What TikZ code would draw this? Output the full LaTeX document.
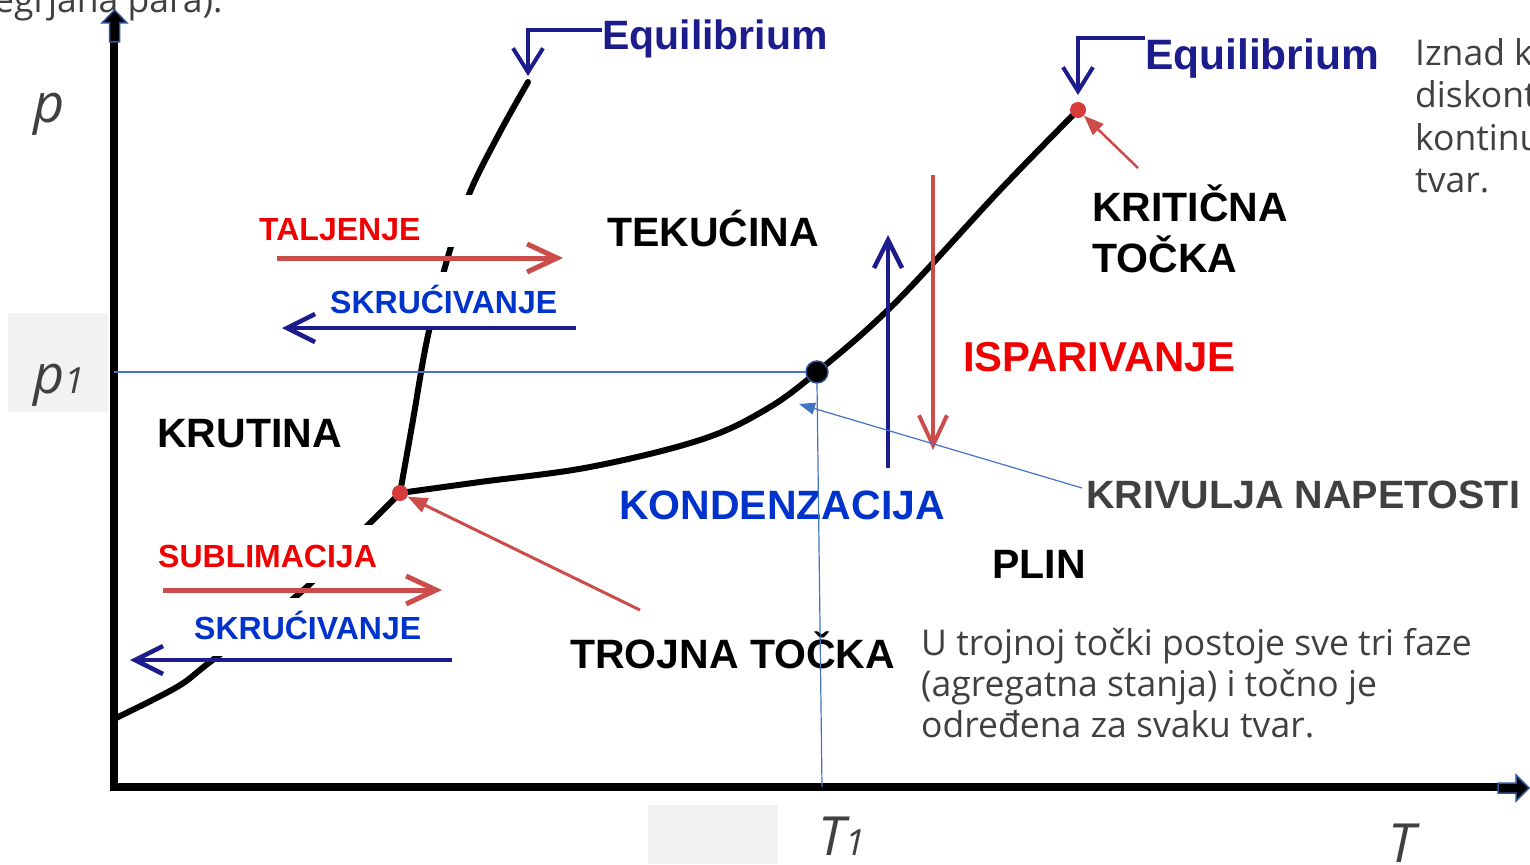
\documentclass[tikz,border=0pt]{standalone}
\usepackage{fontspec}
\setmainfont{Liberation Sans}
\newfontfamily\segoe{Open Sans}
\usetikzlibrary{arrows.meta}
\definecolor{navyarr}{RGB}{28,28,140}
\definecolor{lblblue}{RGB}{0,51,204}
\definecolor{lblred}{RGB}{240,0,0}
\definecolor{salmon}{RGB}{204,76,76}
\definecolor{dotred}{RGB}{214,58,58}
\definecolor{thinblue}{RGB}{68,114,196}
\definecolor{txtgray}{RGB}{64,64,64}
\definecolor{boxgray}{RGB}{242,242,242}
\definecolor{outlineblue}{RGB}{47,85,151}
\tikzset{
  lbl/.style={anchor=base west, inner sep=0pt, font=\bfseries\fontsize{41}{41}\selectfont},
  slbl/.style={anchor=base west, inner sep=0pt, font=\bfseries\fontsize{32}{32}\selectfont},
  eqlbl/.style={anchor=base west, inner sep=0pt, text=navyarr, font=\bfseries\fontsize{42}{42}\selectfont},
  graytxt/.style={anchor=base west, inner sep=0pt, text=txtgray, font=\segoe\fontsize{35.5}{41}\selectfont},
  axlbl/.style={anchor=base west, inner sep=0pt, text=txtgray, font=\segoe\itshape\fontsize{54}{54}\selectfont},
  phase/.style={line width=6pt, line cap=round, line join=round},
  redarr/.style={salmon, line width=5pt, -{Straight Barb[length=30pt,width=28pt]}},
  bluearr/.style={navyarr, line width=4.5pt, -{Straight Barb[length=28pt,width=28pt]}},
  eqarr/.style={navyarr, line width=4pt, -{Straight Barb[length=24pt,width=30pt]}},
  pointer/.style={line width=3pt, -{Triangle[length=20pt,width=15pt]}},
  thinline/.style={thinblue, line width=1.5pt},
  reddot/.style={circle, fill=dotred, inner sep=0pt, minimum size=16pt},
  whitebox/.style={fill=white}
}
\begin{document}
\begin{tikzpicture}[x=1pt,y=-1pt]
\useasboundingbox (0,0) rectangle (1530,864);
% grey backgrounds
\fill[boxgray] (8,313) rectangle (108,412);
\fill[boxgray] (648,805) rectangle (778,864);

% cut-off text at top left
\node[graytxt] (topt) at (-6,13) {egrjana para).};

% phase curves
\draw[phase] plot[smooth, tension=0.55] coordinates {(400,493) (413,420) (427,340) (447,260) (470,192) (500,132) (528,82)};
\draw[phase] plot[smooth, tension=0.55] coordinates {(400,493) (370,523) (300,593) (210,662) (177,687) (116,718)};
\draw[phase] plot[smooth, tension=0.6] coordinates {(400,493) (480,482) (590,467) (700,440) (765,410) (817,372) (895,303) (1000,190) (1078,110)};

% white label backgrounds
\fill[whitebox] (255,195) rectangle (510,247);
\fill[whitebox] (312,272) rectangle (583,327);
\fill[whitebox] (140,525) rectangle (407,583);
\fill[whitebox] (177,598) rectangle (432,656);
\fill[whitebox] (600,468) rectangle (980,552);
\fill[whitebox] (1060,168) rectangle (1300,285);
\fill[whitebox] (945,318) rectangle (1245,385);

% axes
\draw[line width=8pt] (114,791) -- (114,40);
\filldraw[fill=black, draw=outlineblue, line width=1.5pt] (109.5,42) -- (109.5,23) -- (102,23) -- (114.5,10) -- (127,23) -- (119.5,23) -- (119.5,42) -- cycle;
\draw[line width=8pt] (110,787) -- (1500,787);
\filldraw[fill=black, draw=outlineblue, line width=1.5pt] (1498,783) -- (1516,783) -- (1516,775) -- (1529,788) -- (1516,801) -- (1516,793) -- (1498,793) -- cycle;

% process arrows
\coordinate (taljA) at (277,258); \coordinate (taljB) at (563,258);
\coordinate (skrA) at (576,328); \coordinate (skrB) at (282,328);
\coordinate (sublA) at (163,590); \coordinate (sublB) at (442,590);
\coordinate (skrC) at (452,660); \coordinate (skrD) at (130,660);
\coordinate (upA) at (888,468); \coordinate (upB) at (888,235);
\coordinate (dnA) at (933,175); \coordinate (dnB) at (933,450);
\draw[redarr] (taljA) -- (taljB);
\draw[bluearr] (skrA) -- (skrB);
\draw[redarr] (sublA) -- (sublB);
\draw[bluearr] (skrC) -- (skrD);
\draw[bluearr] (upA) -- (upB);
\draw[redarr, line width=4pt] (dnA) -- (dnB);

% labels
\node[lbl] (tek) at (607,246) {TEKUĆINA};
\node[lbl] (kru) at (157,447) {KRUTINA};
\node[lbl] (krit1) at (1092,221) {KRITIČNA};
\node[lbl] (krit2) at (1092,272) {TOČKA};
\node[lbl, text=lblred, font=\bfseries\fontsize{41.8}{42}\selectfont] (isp) at (963,371) {ISPARIVANJE};
\node[lbl, text=lblblue] (kond) at (619,519) {KONDENZACIJA};
\node[lbl, text=txtgray, font=\bfseries\fontsize{39.5}{40}\selectfont] (kriv) at (1086,508) {KRIVULJA NAPETOSTI};
\node[lbl] (plin) at (992,578) {PLIN};
\node[lbl] (troj) at (570,668) {TROJNA TOČKA};
\node[slbl, text=lblred] (talj) at (259,240) {TALJENJE};
\node[slbl, text=lblblue] (skr1) at (330,313) {SKRUĆIVANJE};
\node[slbl, text=lblred] (subl) at (158,567) {SUBLIMACIJA};
\node[slbl, text=lblblue] (skr2) at (194,639) {SKRUĆIVANJE};

% grey explanatory texts
\node[graytxt] (u1) at (921,655) {U trojnoj točki postoje sve tri faze};
\node[graytxt] (u2) at (921,696) {(agregatna stanja) i točno je};
\node[graytxt] (u3) at (921,737) {određena za svaku tvar.};
\node[graytxt] (r1) at (1415,66) {Iznad k};
\node[graytxt] (r2) at (1415,108) {diskont};
\node[graytxt] (r3) at (1415,150) {kontinu};
\node[graytxt] (r4) at (1415,192) {tvar.};

% axis labels
\node[axlbl] (p) at (33,122) {p};
\node[axlbl] (p1) at (33,393) {p\fontsize{36}{36}\selectfont 1};
\node[axlbl] (T1) at (818,855) {T\fontsize{36}{36}\selectfont 1};
\node[axlbl] (T) at (1388,862) {T};

% special points
\node[reddot] (tp) at (400,493) {};
\node[reddot] (cp) at (1078,110) {};
\node[circle, fill=black, draw=outlineblue, line width=1.5pt, minimum size=22pt, inner sep=0pt] (dot) at (817,372) {};

% equilibrium labels
\node[eqlbl, font=\bfseries\fontsize{41}{41}\selectfont] (eq1) at (602,50) {Equilibrium};
\node[eqlbl, font=\bfseries\fontsize{42.5}{42.5}\selectfont] (eq2) at (1145,70) {Equilibrium};
\coordinate (eq1s) at (602,30); \coordinate (eq1t) at (528,76);
\coordinate (eq2s) at (1145,38); \coordinate (eq2t) at (1078,95);
\draw[eqarr] (eq1s) -| (eq1t);
\draw[eqarr] (eq2s) -| (eq2t);

% pointers
\coordinate (trojtail) at (640,610);
\draw[pointer, salmon] (trojtail) -- (tp);
\coordinate (krittail) at (1138,168);
\draw[pointer, salmon, line width=2.5pt] (krittail) -- (cp);
\coordinate (krivtail) at (1082,488);
\coordinate (krivtip) at (799,404);
\draw[thinblue, line width=1.2pt, -{Triangle[length=16pt,width=12pt]}] (krivtail) -- (krivtip);

% p1 / T1 guide lines
\coordinate (yax1) at (114,372);
\coordinate (xax1) at (822,787);
\draw[thinline] (yax1) -- (dot.west);
\draw[thinblue, line width=1.2pt] (dot.south) -- (xax1);
\end{tikzpicture}
\end{document}
